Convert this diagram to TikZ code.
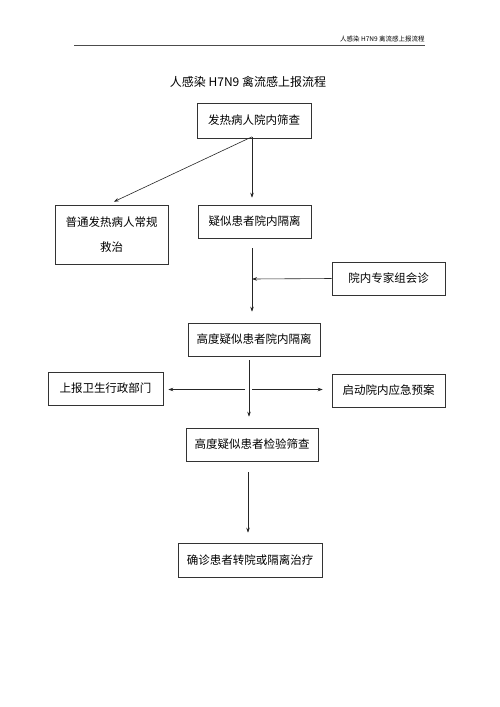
\documentclass[tikz,border=0pt]{standalone}
\usepackage{fontspec}
\newfontfamily\cjk{Noto Sans CJK SC}
\usetikzlibrary{arrows.meta}
\begin{document}
\begin{tikzpicture}[x=1pt, y=-1pt, line width=0.6pt,
    box/.style={draw=black!80, minimum height=33pt, inner sep=0pt, font=\cjk\fontsize{11.5}{25}\selectfont, align=center},
    flow/.style={-{Stealth[length=5pt, width=3.5pt]}, draw=black!85}]
    \useasboundingbox (0,0) rectangle (500,707);
    % header and title
    \draw[black!70, line width=0.5pt] (74,45) -- (425,45);
    \node[anchor=base east, inner sep=0pt, font=\cjk\fontsize{6.5}{7}\selectfont] (head) at (425,41) {人感染 H7N9 禽流感上报流程};
    \node[font=\cjk\fontsize{12}{14}\selectfont] (title) at (248,82) {人感染 H7N9 禽流感上报流程};
    % boxes
    \node[box, minimum width=114pt, minimum height=35pt] (screen) at (254,120.5) {发热病人院内筛查};
    \node[box, minimum width=113pt, minimum height=59pt] (normal) at (111.5,234.5) {普通发热病人常规\\救治};
    \node[box, minimum width=113pt] (iso) at (254.5,221.5) {疑似患者院内隔离};
    \node[box, minimum width=113pt] (consult) at (388.5,278.5) {院内专家组会诊};
    \node[box, minimum width=132pt] (hiso) at (254,339.5) {高度疑似患者院内隔离};
    \node[box, minimum width=115pt] (report) at (105.5,388.5) {上报卫生行政部门};
    \node[box, minimum width=113pt] (plan) at (388.5,390.5) {启动院内应急预案};
    \node[box, minimum width=132pt] (check) at (252,444.5) {高度疑似患者检验筛查};
    \node[box, minimum width=144pt, minimum height=34pt] (final) at (250,560) {确诊患者转院或隔离治疗};
    \coordinate (j0) at ([xshift=-2pt, yshift=1.5pt]screen.south);
    \coordinate (j1) at (252,279);
    \coordinate (j2) at (249,389.5);
    % arrows
    \draw[flow, shorten >=7pt] (j0) -- ([xshift=-4pt]normal.north);
    \draw[flow, shorten >=7pt] (j0) -- ([xshift=-2.5pt]iso.north);
    \draw[flow, shorten <=10pt, shorten >=11pt] ([xshift=-2.5pt]iso.south) -- ([xshift=-2pt]hiso.north);
    \draw[flow] (consult.west) -- (j1);
    \draw[flow, shorten <=4pt, shorten >=11pt] ([xshift=-5pt]hiso.south) -- ([xshift=-3pt]check.north);
    \draw[flow, shorten <=4pt, shorten >=5pt] (j2) -- (j2 -| report.east);
    \draw[flow, shorten <=3pt, shorten >=9pt] (j2) -- (j2 -| plan.west);
    \draw[flow, shorten <=11pt, shorten >=10pt] ([xshift=-4pt]check.south) -- ([xshift=-2pt]final.north);
\end{tikzpicture}
\end{document}
